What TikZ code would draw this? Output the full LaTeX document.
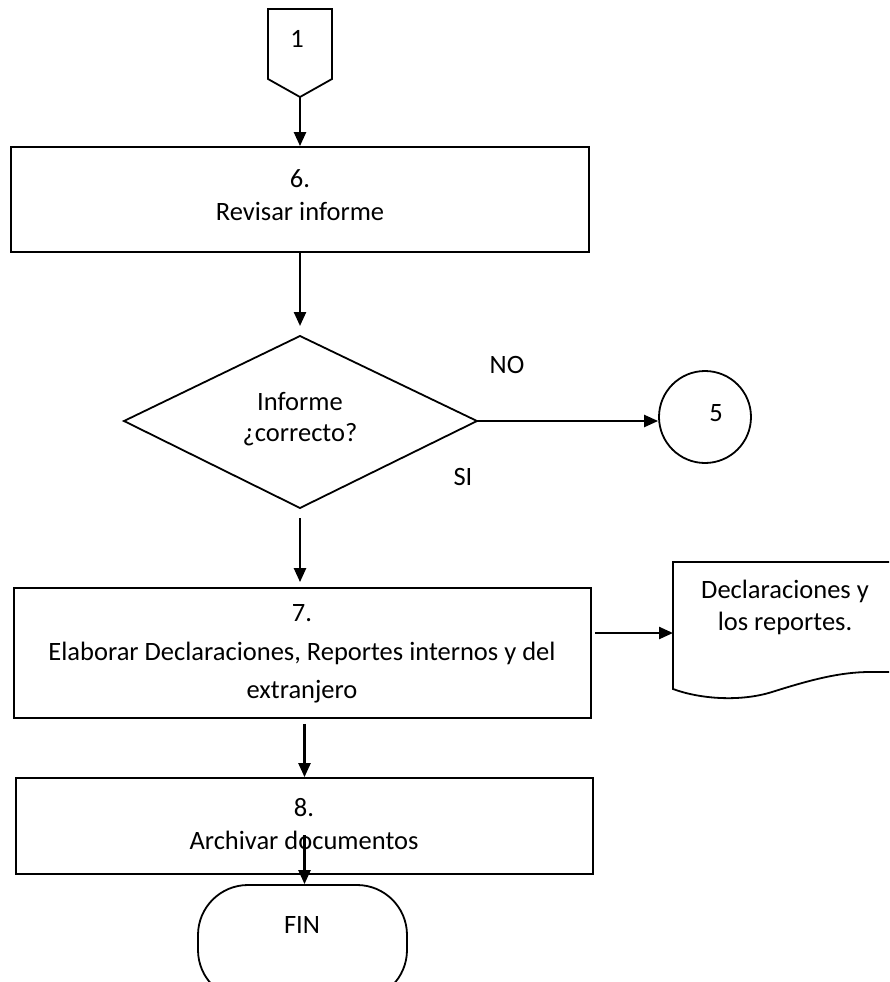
\documentclass[tikz,border=0pt]{standalone}
\usepackage{fontspec}
\setmainfont{Carlito}
\usetikzlibrary{arrows.meta,shapes.geometric,calc}
\begin{document}
\begin{tikzpicture}[x=1pt,y=-1pt,
  shp/.style={draw=black, line width=1.8pt},
  arr/.style={line width=2.4pt, -{Triangle[length=14pt,width=12pt]}},
  txt/.style={font=\fontsize{26.5}{30}\selectfont, inner sep=0pt}]
\useasboundingbox (0,0) rectangle (889,982);
\clip (0,0) rectangle (889,982);
% off-page connector 1
\draw[shp] (268,9) -- (332,9) -- (332,79) -- (300,97) -- (268,79) -- cycle;
\coordinate (c1tip) at (300,97);
\node[txt] (t1) at (297,39) {1};
% box 6
\node[shp, minimum width=578pt, minimum height=105pt, inner sep=0] (b6) at (300,199.5) {};
\node[txt] (t6a) at (300,179) {6.};
\node[txt] (t6b) at (300,211) {Revisar informe};
% decision
\draw[shp] (300,336) -- (477,421) -- (300,508) -- (124,421) -- cycle;
\coordinate (dtop) at (300,336);
\coordinate (dright) at (477,421);
\coordinate (dbot) at (300,508);
\node[txt] (td1) at (300,402) {Informe};
\node[txt] (td2) at (300,435) {¿correcto?};
\node[txt] (tno) at (507,365) {NO};
\node[txt] (tsi) at (463,477) {SI};
% connector 5
\node[shp, circle, minimum size=92pt, inner sep=0] (c5) at (705,417) {};
\node[txt] (t5) at (716,413) {5};
% box 7
\node[shp, minimum width=577pt, minimum height=130pt, inner sep=0] (b7) at (302.5,653) {};
\node[txt] (t7a) at (302,613) {7.};
\node[txt] (t7b) at (302,653) {Elaborar Declaraciones, Reportes internos y del};
\node[txt] (t7c) at (302,692) {extranjero};
% document
\draw[shp] (900,562) -- (673,562) -- (673,689)
  .. controls (700,699) and (740,702) .. (772,692)
  .. controls (810,680) and (840,672) .. (870,672) -- (900,672);
\coordinate (docL) at (673,633);
\node[txt] (td3) at (785,591) {Declaraciones y};
\node[txt] (td4) at (785,623) {los reportes.};
% box 8
\node[shp, minimum width=577pt, minimum height=96pt, inner sep=0] (b8) at (304.5,826) {};
\node[txt] (t8a) at (304,808) {8.};
\node[txt] (t8b) at (304,840) {Archivar documentos};
% FIN
\node[shp, rounded corners=50pt, minimum width=209pt, minimum height=115pt, inner sep=0] (fin) at (302.5,942.5) {};
\node[txt] (tfin) at (302,925) {FIN};
% connectors
\draw[arr] (c1tip) -- (b6.north);
\draw[arr, shorten >=10pt] (b6.south) -- (dtop);
\draw[arr, shorten >=5pt] ([yshift=-10pt]dbot) -- (dbot |- b7.north);
\draw[arr] (dright) -- (dright -| c5.west);
\draw[arr, shorten <=3pt] (b7.east |- docL) -- (docL);
\draw[arr, shorten <=5pt] (b7.south -| b8.north) -- (b8.north);
\draw[arr] ([yshift=-9pt]b8.center) -- (b8.center |- fin.north);
\end{tikzpicture}
\end{document}
